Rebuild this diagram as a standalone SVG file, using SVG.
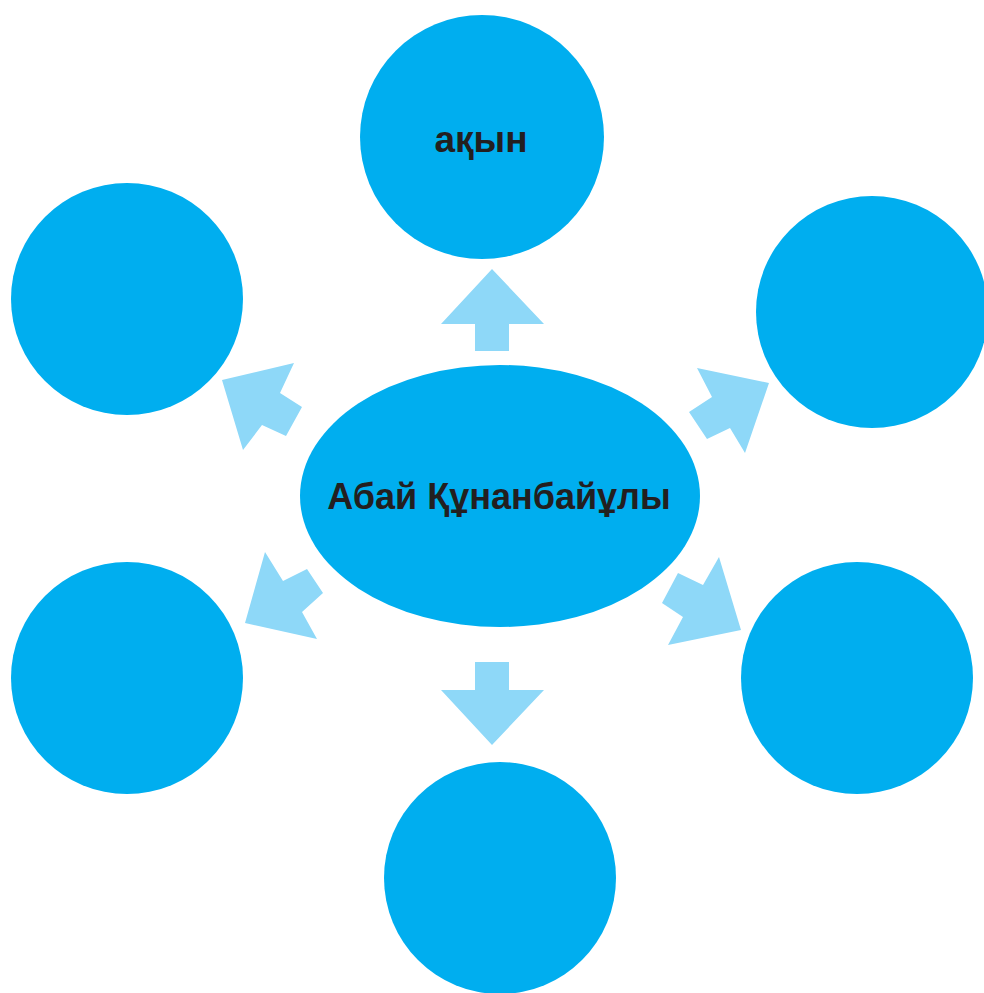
<svg xmlns="http://www.w3.org/2000/svg" width="984" height="993" viewBox="0 0 984 993">
<style>
.node{fill:#00aeef}
.arr{fill:#8ed8f8}
.lbl{font-family:"Liberation Sans",Arial,sans-serif;font-weight:bold;fill:#231f20;text-anchor:middle}
</style>
<rect width="984" height="993" fill="#ffffff"/>
<g id="connectors">
<polygon class="arr" points="492,269 544,324 509,324 509,351 475,351 475,324 441,324"/>
<polygon class="arr" points="492,745 544,690 509,690 509,662 475,662 475,690 441,690"/>
<polygon class="arr" points="222,380 294,363 280,393 302,407 286,436 262,425 243,450"/>
<polygon class="arr" points="769,383 697,368 712,397 689,412 707,439 730,428 745,453"/>
<polygon class="arr" points="245,623 265,552 283,581 307,569 323,593 302,612 317,639"/>
<polygon class="arr" points="741,630 719,557 703,585 678,573 662,603 683,617 668,645"/>
</g>
<g id="node-center">
<ellipse class="node" cx="500" cy="496" rx="200" ry="131"/>
<text class="lbl" x="499" y="509" font-size="36">Абай Құнанбайұлы</text>
</g>
<g id="node-top">
<circle class="node" cx="482" cy="137" r="122"/>
<text class="lbl" x="481" y="152" font-size="37">ақын</text>
</g>
<g id="node-left-top"><circle class="node" cx="127" cy="299" r="116"/></g>
<g id="node-right-top"><circle class="node" cx="872" cy="312" r="116"/></g>
<g id="node-left-bottom"><circle class="node" cx="127" cy="678" r="116"/></g>
<g id="node-right-bottom"><circle class="node" cx="857" cy="678" r="116"/></g>
<g id="node-bottom"><circle class="node" cx="500" cy="878" r="116"/></g>
</svg>
